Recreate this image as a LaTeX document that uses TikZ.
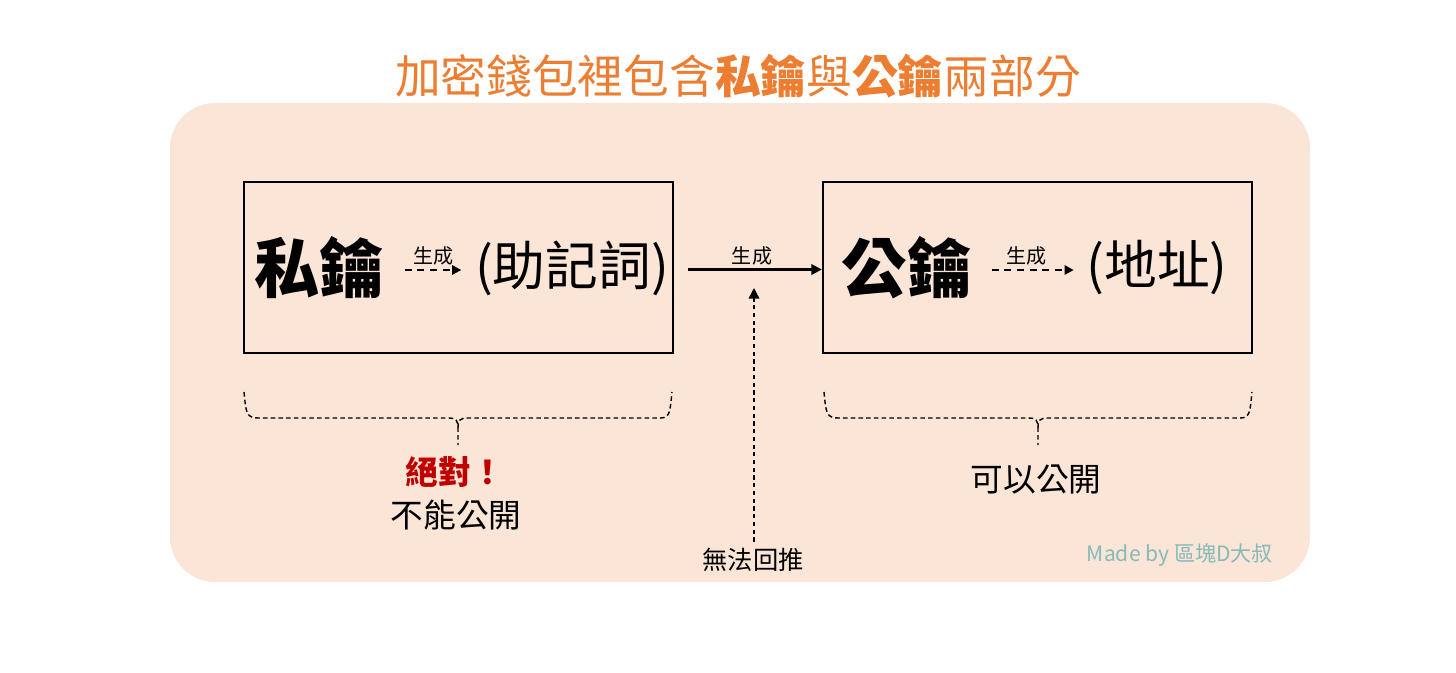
\documentclass[tikz,border=0pt]{standalone}
\usepackage{fontspec}
\setmainfont{Noto Sans CJK TC}
\usetikzlibrary{positioning,arrows.meta,calc}
\definecolor{bgpeach}{HTML}{FBE5D6}
\definecolor{titleorange}{HTML}{ED7D31}
\definecolor{warnred}{HTML}{C00000}
\definecolor{signteal}{HTML}{85B9BA}
\tikzset{
  genarr/.style={-{Triangle[length=3pt,width=3pt]},line width=0.6pt},
  dasharr/.style={-{Triangle[length=2.6pt,width=2.6pt]},line width=0.7pt,dash pattern=on 2pt off 1.6pt},
  backarr/.style={-{Triangle[length=3pt,width=3pt]},line width=0.4pt,dash pattern=on 1.2pt off 1pt},
  bracepath/.style={line width=0.4pt,dash pattern=on 1.3pt off 0.9pt},
  keybox/.style={draw=black,line width=0.6pt,minimum width=4.29cm,minimum height=1.71cm,inner sep=0pt},
  bigkey/.style={font=\fontsize{18.5}{20}\selectfont\bfseries,inner sep=0pt},
  derived/.style={font=\fontsize{15}{17}\selectfont,inner sep=0pt},
  genlabel/.style={font=\fontsize{5.7}{7}\selectfont,inner sep=1pt},
  note/.style={font=\fontsize{9.3}{11}\selectfont,inner sep=0pt}
}
\begin{document}
\begin{tikzpicture}[x=0.01cm,y=-0.01cm]
\useasboundingbox (0,0) rectangle (1456,672);
\fill[bgpeach,rounded corners=0.45cm] (170,103) rectangle (1310,582);

\node[font=\fontsize{13}{15}\selectfont,text=titleorange] (title) at (738,76)
  {加密錢包裡包含{\bfseries 私鑰}與{\bfseries 公鑰}兩部分};

\node[keybox] (privbox) at (458.5,267.5) {};
\node[keybox] (pubbox) at (1037.5,267.5) {};

\node[bigkey] (privk) at (320,268) {私鑰};
\node[derived] (mnem) at (572,268) {(助記詞)};
\node[bigkey] (pubk) at (907,268) {公鑰};
\node[derived] (addr) at (1157,268) {(地址)};

\draw[dasharr] ($(privk.east)+(19,2)$) -- ($(mnem.west)+(-13,2)$)
  node[genlabel,midway,above=0pt] {生成};
\draw[dasharr] ($(pubk.east)+(19,2)$) -- ($(addr.west)+(-12,2)$)
  node[genlabel,midway,above=0pt,xshift=-0.06cm] {生成};

\draw[genarr] ([xshift=0.14cm,yshift=-0.02cm]privbox.east) -- ([yshift=-0.02cm]pubbox.west)
  node[genlabel,midway,above=0pt,xshift=-0.03cm] {生成};

\node[note,font=\fontsize{7.2}{8}\selectfont] (noback) at (753,560) {無法回推};
\coordinate (stop) at (754,288);
\draw[backarr] ([yshift=0.06cm]noback.north -| stop) -- (stop);

% braces under the boxes
\draw[bracepath] (244,392) .. controls (246,412) and (246,418) .. (258,418) -- (448,418)
  .. controls (456,418) and (458,420) .. (458,428) -- (458,445);
\draw[bracepath] (458,428) .. controls (458,420) and (460,418) .. (468,418) -- (660,418)
  .. controls (670,418) and (670,412) .. (672,392);
\draw[bracepath] (824,392) .. controls (826,412) and (826,418) .. (838,418) -- (1028,418)
  .. controls (1036,418) and (1038,420) .. (1038,428) -- (1038,445);
\draw[bracepath] (1038,428) .. controls (1038,420) and (1040,418) .. (1048,418) -- (1240,418)
  .. controls (1250,418) and (1250,412) .. (1252,392);

\node[note,text=warnred,font=\fontsize{9.3}{11}\selectfont\bfseries] (never) at (455,472) {絕對！};
\node[note] (nopub) at (456,515) {不能公開};
\node[note] (canpub) at (1036,480) {可以公開};

\node[font=\fontsize{6}{7}\selectfont,text=signteal] (sign) at (1180,555) {Made by 區塊D大叔};
\end{tikzpicture}
\end{document}
